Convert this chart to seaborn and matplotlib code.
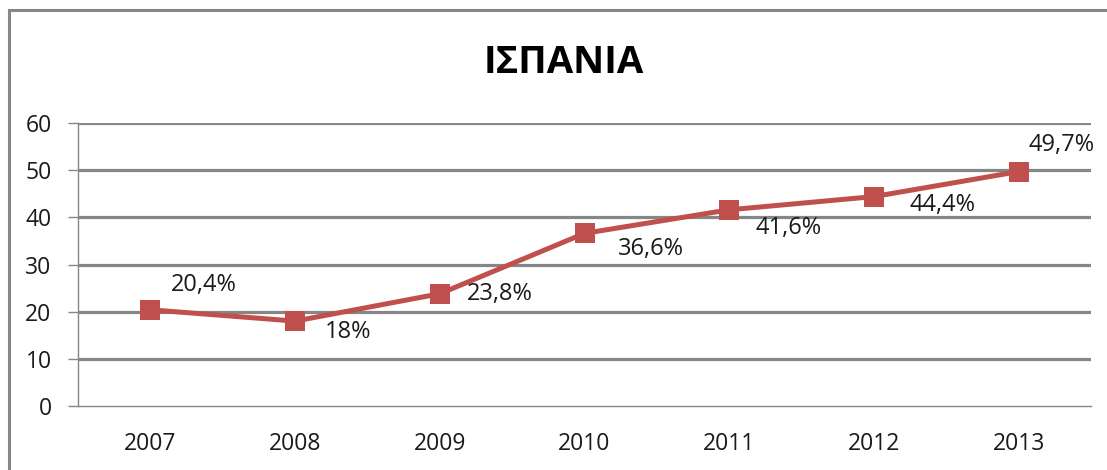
import numpy as np
import pandas as pd
import seaborn as sns
import matplotlib.pyplot as plt
from matplotlib.patches import Rectangle

# Dados
years = ["2007", "2008", "2009", "2010", "2011", "2012", "2013"]
values = [20.4, 18.0, 23.8, 36.6, 41.6, 44.4, 49.7]
labels = ["20,4%", "18%", "23,8%", "36,6%", "41,6%", "44,4%", "49,7%"]
title = "ΙΣΠΑΝΙΑ"

# deslocamento dos rótulos (pixels, relativo ao marcador)
label_offsets = [(21, 25), (30, -11), (27, 0), (33, -16), (26, -18), (36, -8), (10, 27)]

df = pd.DataFrame({"ano": years, "valor": values})

sns.set_theme(style="white")
plt.rcParams["font.family"] = ["Open Sans", "DejaVu Sans"]

fig = plt.figure(figsize=(11.07, 4.70), dpi=100)
ax = fig.add_axes([78 / 1107, 1 - 406 / 470, (1091 - 78) / 1107, (406 - 123) / 470])

red = "#C0504D"
grid = "#868686"

sns.lineplot(data=df, x="ano", y="valor", ax=ax, color=red, linewidth=3.6,
             marker="s", markersize=14.5, markeredgewidth=0, sort=False, zorder=3)

ax.set_xlim(-0.5, len(years) - 0.5)
ax.set_ylim(0, 60)
ax.set_yticks(range(0, 61, 10))
ax.set_xlabel("")
ax.set_ylabel("")

# grade horizontal grossa
for y in range(10, 61, 10):
    ax.axhline(y, color=grid, linewidth=2.3, zorder=1)

for side in ["top", "right"]:
    ax.spines[side].set_visible(False)
for side in ["left", "bottom"]:
    ax.spines[side].set_color(grid)
    ax.spines[side].set_linewidth(1.0)

ax.set_xticks(range(len(years)))
ax.set_xticklabels(years)
ax.set_xticks(np.arange(-0.5, len(years), 1.0), minor=True)
ax.tick_params(axis="x", which="major", length=0, pad=19, labelsize=16.5, labelcolor="#1a1a1a")
ax.tick_params(axis="x", which="minor", length=7, width=1, color=grid, direction="out")
ax.tick_params(axis="y", length=7, width=1, color=grid, direction="out", left=True,
               pad=12, labelsize=16.5, labelcolor="#1a1a1a")

# rótulos de dados
for i, (v, lab, (dx, dy)) in enumerate(zip(values, labels, label_offsets)):
    ax.annotate(lab, (i, v), xytext=(dx * 0.72, dy * 0.72), textcoords="offset points",
                ha="left", va="center", fontsize=17, color="#1a1a1a", zorder=4)

fig.text(564 / 1107, 1 - 63 / 470, title, ha="center", va="center",
         fontsize=27.5, fontweight="bold", color="black")

# moldura do gráfico (cortada à direita e embaixo)
fig.patches.append(Rectangle((9 / 1107, -0.1), 1.2, 1 - 10 / 470 + 0.1,
                             transform=fig.transFigure, fill=False,
                             edgecolor=grid, linewidth=2.2, clip_on=False))

fig.savefig("out.png", dpi=100)
